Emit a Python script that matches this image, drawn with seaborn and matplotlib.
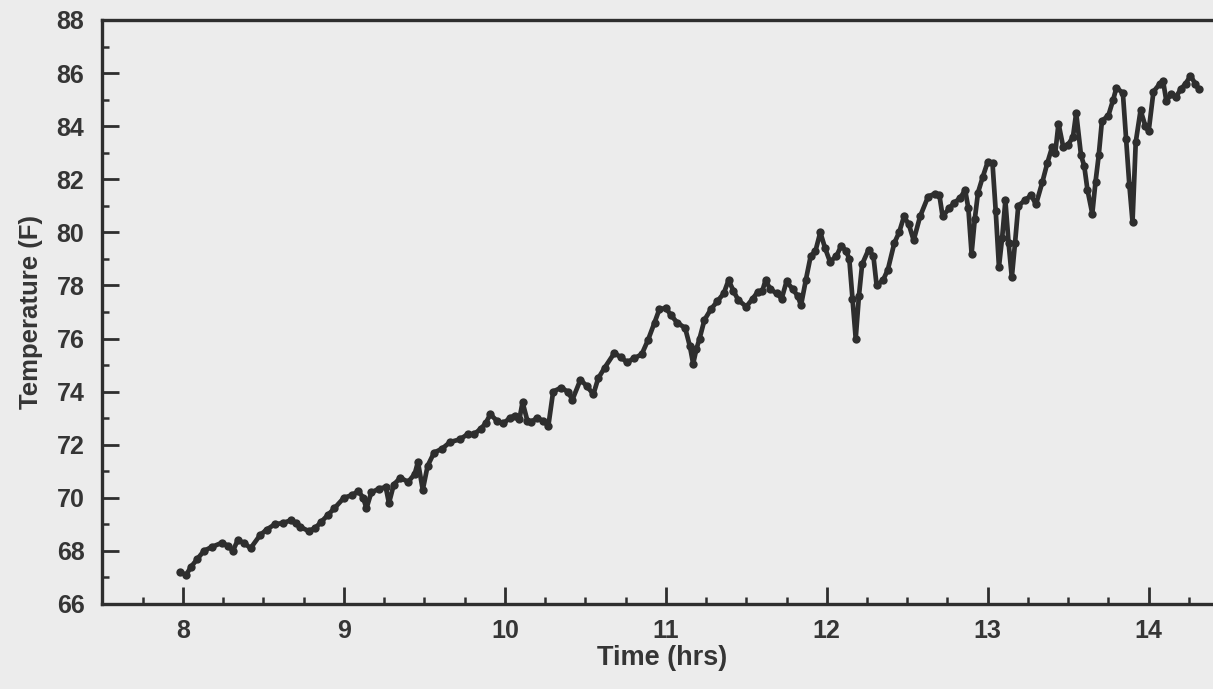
import matplotlib
matplotlib.use("Agg")
import matplotlib.pyplot as plt
import seaborn as sns
import pandas as pd
from matplotlib.ticker import MultipleLocator

time_hrs = [
    7.98, 8.02, 8.05, 8.09, 8.13, 8.18, 8.24, 8.28, 8.31, 8.34, 8.38, 8.42, 8.48, 8.52, 8.57,
    8.62, 8.67, 8.70, 8.73, 8.78, 8.82, 8.86, 8.90, 8.94, 9.00, 9.05, 9.09, 9.12, 9.14, 9.17,
    9.22, 9.26, 9.28, 9.31, 9.35, 9.40, 9.44, 9.46, 9.49, 9.52, 9.56, 9.61, 9.66, 9.72, 9.77,
    9.81, 9.85, 9.88, 9.91, 9.95, 9.99, 10.03, 10.06, 10.09, 10.11, 10.14, 10.16, 10.20, 10.24,
    10.27, 10.30, 10.35, 10.39, 10.42, 10.47, 10.51, 10.55, 10.58, 10.62, 10.68, 10.72, 10.76,
    10.80, 10.85, 10.89, 10.93, 10.96, 11.00, 11.03, 11.07, 11.12, 11.15, 11.17, 11.19, 11.21,
    11.24, 11.28, 11.32, 11.36, 11.39, 11.42, 11.45, 11.50, 11.54, 11.57, 11.60, 11.62, 11.65,
    11.69, 11.72, 11.75, 11.79, 11.82, 11.84, 11.87, 11.90, 11.93, 11.96, 11.99, 12.02, 12.06,
    12.09, 12.12, 12.14, 12.16, 12.18, 12.20, 12.22, 12.26, 12.29, 12.31, 12.35, 12.38, 12.42,
    12.45, 12.48, 12.51, 12.54, 12.58, 12.63, 12.67, 12.70, 12.72, 12.76, 12.79, 12.83, 12.86,
    12.88, 12.90, 12.92, 12.94, 12.97, 13.00, 13.03, 13.05, 13.07, 13.09, 13.11, 13.13, 13.15,
    13.17, 13.19, 13.23, 13.27, 13.30, 13.34, 13.37, 13.40, 13.42, 13.44, 13.47, 13.50, 13.53,
    13.55, 13.58, 13.60, 13.62, 13.65, 13.67, 13.69, 13.71, 13.75, 13.78, 13.80, 13.84, 13.86,
    13.88, 13.90, 13.92, 13.95, 13.98, 14.00, 14.03, 14.07, 14.09, 14.11, 14.14, 14.17, 14.20,
    14.23, 14.26, 14.29, 14.31,
]
temp_f = [
    67.2, 67.1, 67.4, 67.7, 68.0, 68.15, 68.3, 68.2, 68.0, 68.4, 68.3, 68.1, 68.6, 68.8, 69.0,
    69.05, 69.15, 69.05, 68.9, 68.75, 68.85, 69.1, 69.35, 69.6, 70.0, 70.1, 70.25, 70.0, 69.6, 70.2,
    70.35, 70.4, 69.8, 70.5, 70.75, 70.6, 70.9, 71.35, 70.3, 71.2, 71.7, 71.85, 72.1, 72.2, 72.4,
    72.4, 72.6, 72.8, 73.15, 72.9, 72.8, 73.0, 73.1, 72.95, 73.6, 72.9, 72.85, 73.0, 72.9,
    72.7, 74.0, 74.15, 74.0, 73.7, 74.45, 74.2, 73.9, 74.5, 74.9, 75.45, 75.3, 75.1,
    75.25, 75.4, 75.95, 76.6, 77.1, 77.15, 76.9, 76.6, 76.4, 75.7, 75.05, 75.6, 76.0,
    76.7, 77.1, 77.4, 77.7, 78.2, 77.8, 77.45, 77.2, 77.5, 77.75, 77.8, 78.2, 77.85,
    77.7, 77.5, 78.15, 77.85, 77.6, 77.25, 78.2, 79.1, 79.3, 80.0, 79.4, 78.9, 79.1,
    79.5, 79.3, 79.0, 77.5, 76.0, 77.6, 78.8, 79.35, 79.1, 78.0, 78.2, 78.6, 79.6,
    80.0, 80.6, 80.3, 79.7, 80.6, 81.35, 81.45, 81.4, 80.6, 80.9, 81.1, 81.3, 81.6,
    80.9, 79.2, 80.5, 81.5, 82.1, 82.65, 82.6, 80.8, 78.7, 79.8, 81.2, 79.6, 78.3,
    79.6, 81.0, 81.2, 81.4, 81.05, 81.9, 82.6, 83.2, 83.0, 84.1, 83.2, 83.3, 83.6,
    84.5, 82.9, 82.5, 81.6, 80.7, 81.9, 82.9, 84.2, 84.4, 85.0, 85.45, 85.25, 83.5,
    81.8, 80.4, 83.4, 84.6, 84.0, 83.8, 85.3, 85.6, 85.7, 84.95, 85.2, 85.1, 85.4,
    85.6, 85.9, 85.6, 85.4,
]

x_major_ticks = [8, 9, 10, 11, 12, 13, 14]
y_major_ticks = [66, 68, 70, 72, 74, 76, 78, 80, 82, 84, 86, 88]

df = pd.DataFrame({"Time (hrs)": time_hrs, "Temperature (F)": temp_f})

sns.set_theme(style="white")
plt.rcParams["font.family"] = ["Liberation Sans", "DejaVu Sans"]

bg = "#ececec"
ink = "#2e2e2e"
txt = "#353535"

fig = plt.figure(figsize=(12.13, 6.89), dpi=100, facecolor=bg)
ax = fig.add_axes([0.0845, 0.1234, 0.9155, 0.8476])
ax.set_facecolor(bg)

sns.lineplot(data=df, x="Time (hrs)", y="Temperature (F)", ax=ax, color=ink,
             linewidth=3.4, marker="o", markersize=6, markeredgewidth=0,
             sort=False, estimator=None)

ax.set_xlim(7.5, 14.4)
ax.set_ylim(66, 88)
ax.set_xticks(x_major_ticks)
ax.set_yticks(y_major_ticks)
ax.xaxis.set_minor_locator(MultipleLocator(0.25))
ax.yaxis.set_minor_locator(MultipleLocator(1))

ax.tick_params(axis="both", which="both", bottom=True, left=True, top=False, right=False,
               direction="in", color=ink)
ax.tick_params(axis="both", which="major", length=12, width=2.0,
               labelcolor=txt, labelsize=18)
ax.tick_params(axis="both", which="minor", length=5, width=1.8)
ax.tick_params(axis="x", which="major", pad=11)
ax.tick_params(axis="y", which="major", pad=13)
for lab in ax.get_xticklabels() + ax.get_yticklabels():
    lab.set_fontweight("bold")

for side in ["left", "bottom", "top"]:
    ax.spines[side].set_color(ink)
    ax.spines[side].set_linewidth(2.4)
ax.spines["right"].set_visible(False)

ax.set_xlabel("Time (hrs)", fontsize=19.5, fontweight="bold", color=txt)
ax.set_ylabel("Temperature (F)", fontsize=18.5, fontweight="bold", color=txt, labelpad=10)
ax.xaxis.set_label_coords(0.5036, -0.0705)

fig.savefig("out.png", dpi=100, facecolor=bg)
